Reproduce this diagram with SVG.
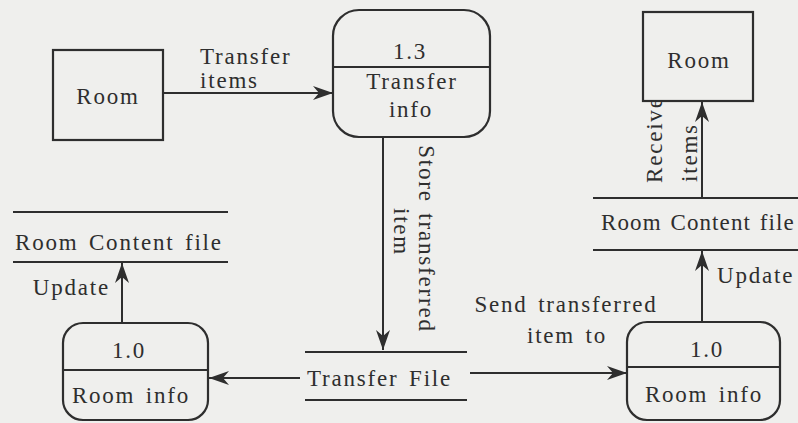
<svg xmlns="http://www.w3.org/2000/svg" width="798" height="423" viewBox="0 0 798 423">
  <style>
    text { font-family: "Liberation Serif", "Times New Roman", serif; font-size: 23px; fill: #2e2e2e; letter-spacing: 1.8px; word-spacing: 3px; }
    .mid { text-anchor: middle; }
    .end { text-anchor: end; }
    .tight { letter-spacing: 1.1px; word-spacing: 2px; }
    .box { fill: #efefed; stroke: #2e2e2e; stroke-width: 2.2; }
    .rule { stroke: #2e2e2e; stroke-width: 2.2; fill: none; }
    .flow { stroke: #2e2e2e; stroke-width: 2; fill: none; marker-end: url(#arrow); }
  </style>
  <defs>
    <marker id="arrow" markerUnits="userSpaceOnUse" markerWidth="22" markerHeight="16" refX="20" refY="8" orient="auto">
      <path d="M0,1 L20,8 L0,15 L6,8 Z" fill="#2e2e2e"/>
    </marker>
  </defs>

  <rect width="798" height="423" fill="#efefed"/>

  <!-- connectors -->
  <g id="connectors">
    <line class="flow" x1="163" y1="93" x2="333" y2="93"/>
    <line class="flow" x1="383" y1="137" x2="383" y2="350"/>
    <line class="flow" x1="300" y1="378" x2="209" y2="378"/>
    <line class="flow" x1="470" y1="373" x2="627" y2="373"/>
    <line class="flow" x1="122" y1="323" x2="122" y2="263"/>
    <line class="flow" x1="702" y1="322" x2="702" y2="251"/>
    <line class="flow" x1="702" y1="198" x2="702" y2="102"/>

    <text x="200" y="64">Transfer</text>
    <text x="200" y="88">items</text>
    <text class="mid" transform="translate(419,239) rotate(90)">Store transferred</text>
    <text class="mid" transform="translate(394,232) rotate(90)">item</text>
    <text class="end" x="110" y="295">Update</text>
    <text x="717" y="283">Update</text>
    <text class="mid" x="566" y="312">Send transferred</text>
    <text class="mid" x="567" y="343">item to</text>
    <text transform="translate(662,183) rotate(-90)">Receive</text>
    <text transform="translate(697,182) rotate(-90)">items</text>
  </g>

  <!-- external entity: source room -->
  <g id="room-source">
    <rect class="box" x="53" y="50" width="110" height="90"/>
    <text class="mid" x="108" y="104">Room</text>
  </g>

  <!-- external entity: destination room -->
  <g id="room-destination">
    <rect class="box" x="643" y="12" width="110" height="89"/>
    <text class="mid" x="699" y="68">Room</text>
  </g>

  <!-- process 1.3 -->
  <g id="process-transfer-info">
    <rect class="box" x="333" y="10" width="157" height="127" rx="26"/>
    <line class="rule" x1="333" y1="67" x2="490" y2="67"/>
    <text class="mid" x="410" y="59">1.3</text>
    <text class="mid" x="412" y="89">Transfer</text>
    <text class="mid" x="411" y="117">info</text>
  </g>

  <!-- process 1.0 (left) -->
  <g id="process-room-info-left">
    <rect class="box" x="63" y="323" width="145" height="97" rx="20"/>
    <line class="rule" x1="63" y1="370" x2="208" y2="370"/>
    <text class="mid" x="129" y="358">1.0</text>
    <text class="mid" x="131" y="403">Room info</text>
  </g>

  <!-- process 1.0 (right) -->
  <g id="process-room-info-right">
    <rect class="box" x="627" y="322" width="153" height="98" rx="20"/>
    <line class="rule" x1="627" y1="367" x2="780" y2="367"/>
    <text class="mid" x="707" y="357">1.0</text>
    <text class="mid" x="704" y="402">Room info</text>
  </g>

  <!-- data store: room content file (left) -->
  <g id="store-room-content-left">
    <line class="rule" x1="13" y1="212" x2="228" y2="212"/>
    <line class="rule" x1="13" y1="262" x2="228" y2="262"/>
    <text x="15" y="250">Room Content file</text>
  </g>

  <!-- data store: room content file (right) -->
  <g id="store-room-content-right">
    <line class="rule" x1="593" y1="198" x2="798" y2="198"/>
    <line class="rule" x1="593" y1="250" x2="798" y2="250"/>
    <text class="tight" x="601" y="230">Room Content file</text>
  </g>

  <!-- data store: transfer file -->
  <g id="store-transfer-file">
    <line class="rule" x1="305" y1="352" x2="467" y2="352"/>
    <line class="rule" x1="305" y1="400" x2="467" y2="400"/>
    <text x="307" y="386">Transfer File</text>
  </g>
</svg>
